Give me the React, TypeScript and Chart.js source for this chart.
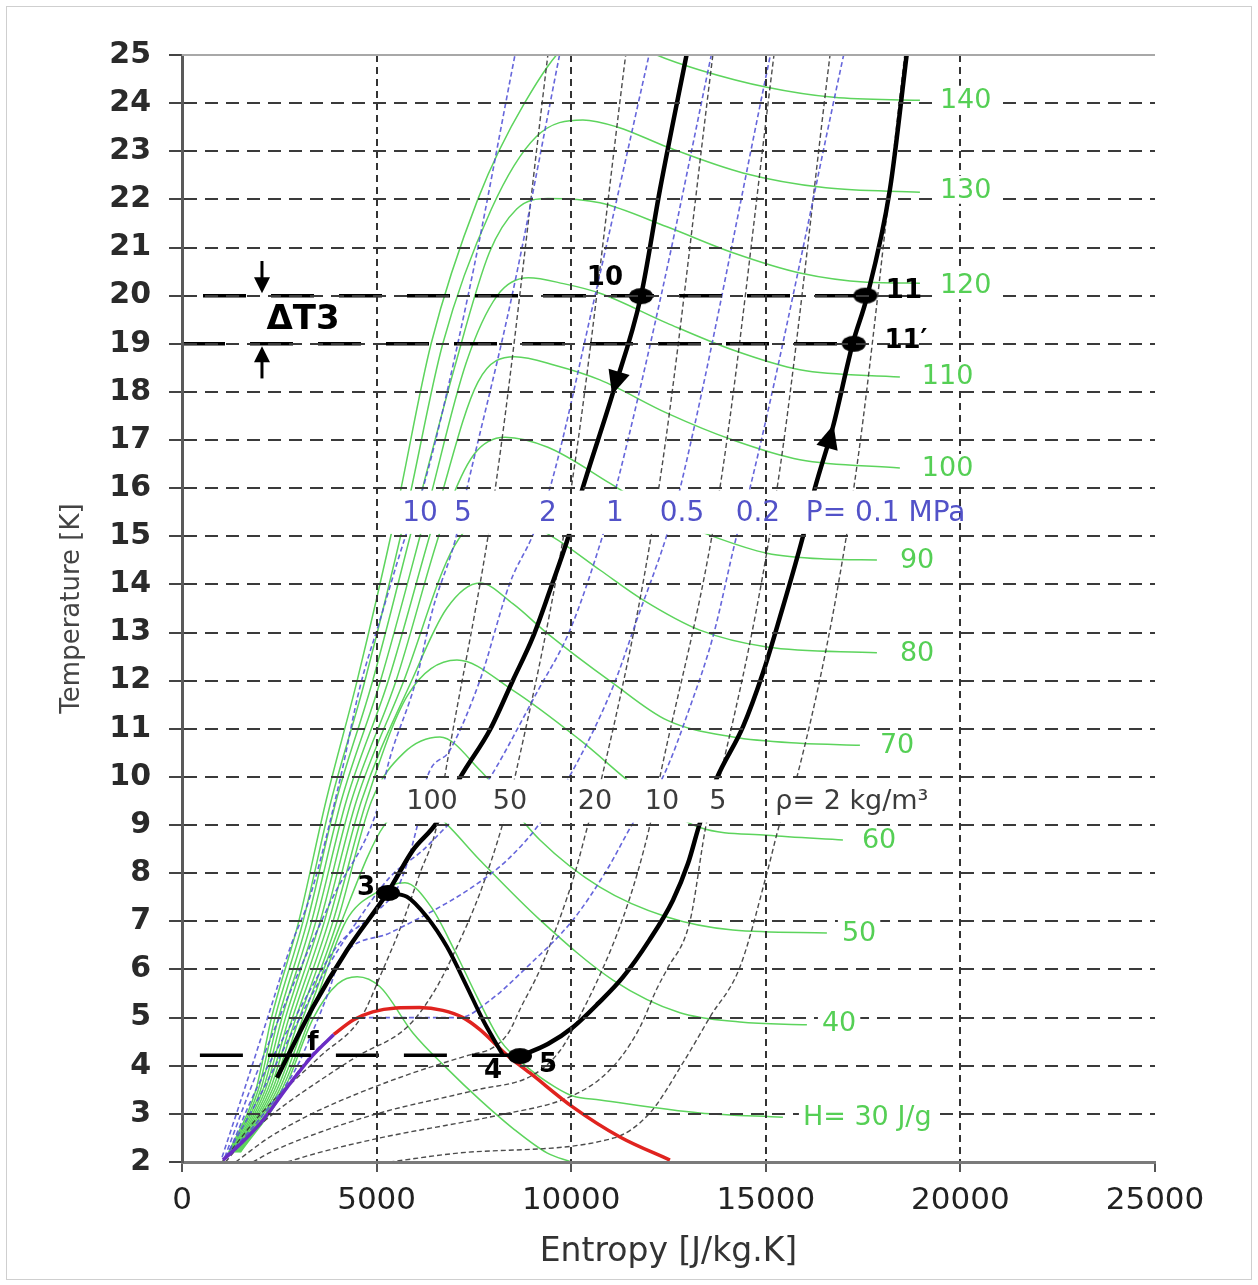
import React, { useEffect, useRef } from "react";
import { Chart, registerables } from "chart.js";
Chart.register(...registerables);

type P = [number, number];

// ---- axes ----
const S_MIN = 0, S_MAX = 25000, S_STEP = 5000;
const T_MIN = 2, T_MAX = 25, T_STEP = 1;

// ---- isenthalps (J/g) : [entropy J/kg.K, temperature K] ----
const H140: P[] = [[1200,2.2],[1900,3.5],[2300,5],[3000,7],[3700,9.5],[4500,12],[5500,15.5],[6400,19],[7600,22],[8800,24],[10000,25.3],[11000,25.5],[12200,25.0],[13300,24.69],[15030,24.33],[16740,24.12],[18960,24.06]];
const H130: P[] = [[1225,2.2],[1960,3.5],[2390,5],[3110,7],[3830,9.5],[4700,12],[5760,15.5],[6700,19],[7950,21.8],[9100,23.3],[10300,23.65],[11200,23.5],[12460,23.09],[14412,22.55],[16545,22.24],[18960,22.15]];
const H120: P[] = [[1250,2.2],[2020,3.5],[2480,5],[3220,7],[3960,9.5],[4900,12],[6020,15.5],[7000,18.5],[7900,20.9],[8600,21.8],[9400,22.02],[10738,21.93],[12460,21.43],[14155,20.89],[15876,20.47],[17598,20.28],[18960,20.26]];
const H110: P[] = [[1275,2.2],[2080,3.5],[2570,5],[3330,7],[4090,9.5],[5100,12],[6280,15.5],[7300,18.6],[8100,20.0],[8900,20.37],[9800,20.25],[10738,20.05],[12460,19.43],[14155,18.87],[15876,18.46],[18445,18.31]];
const H100: P[] = [[1300,2.2],[2140,3.5],[2660,5],[3440,7],[4220,9.5],[5300,12],[6540,15.5],[7600,18.2],[8550,18.73],[9600,18.55],[10738,18.25],[12460,17.56],[14155,17.0],[15876,16.59],[18445,16.42]];
const H90: P[] = [[1325,2.2],[2200,3.5],[2750,5],[3550,7],[4350,9.5],[5500,12],[6800,15.5],[7500,16.7],[8300,17.06],[9400,16.85],[11000,16.1],[12300,15.45],[13641,15.0],[15029,14.65],[16500,14.53],[17855,14.51]];
const H80: P[] = [[1350,2.2],[2260,3.5],[2840,5],[3660,7],[4480,9.5],[5700,12],[7000,14.8],[8100,15.5],[9500,15.0],[10738,14.3],[11843,13.68],[13307,13.05],[15029,12.7],[17855,12.58]];
const H70: P[] = [[1375,2.2],[2320,3.5],[2930,5],[3770,7],[4610,9.5],[5900,12],[6800,13.5],[7656,14.03],[8500,13.6],[9377,12.99],[11072,11.95],[12460,11.18],[14155,10.83],[15876,10.7],[17418,10.66]];
const H60: P[] = [[1400,2.2],[2380,3.5],[3020,5],[3880,7],[4740,9.5],[5800,11.7],[7065,12.43],[8503,11.8],[10225,10.77],[11766,9.73],[13307,8.95],[15029,8.79],[16981,8.69]];
const H50: P[] = [[1425,2.2],[2440,3.5],[3110,5],[3990,7],[4870,9.5],[5700,10.5],[6628,10.83],[7656,10.14],[9197,8.69],[10738,7.71],[12460,7.09],[14155,6.82],[16570,6.76]];
const H40: P[] = [[1450,2.2],[2500,3.5],[3200,5],[4100,7],[5200,9.0],[6100,9.42],[6628,9.15],[7656,8.27],[9197,7.03],[11072,5.78],[12794,5.1],[14335,4.91],[16056,4.85]];
const H30: P[] = [[1475,2.2],[2560,3.5],[3290,5],[4210,7],[5000,7.6],[5729,7.8],[6400,7.3],[7000,6.4],[7600,5.4],[8200,4.5],[8900,3.95],[9600,3.55],[10045,3.37],[10738,3.29],[13307,3.02],[15440,2.93]];
const H20: P[] = [[1500,2.2],[2620,3.5],[3380,5],[4000,5.7],[4500,5.85],[5087,5.64],[5934,4.68],[6800,3.95],[7656,3.29],[8500,2.7],[9377,2.19],[10000,2.0]];
const ISENTHALPS: P[][] = [H140, H130, H120, H110, H100, H90, H80, H70, H60, H50, H40, H30, H20];

// ---- isobars (MPa) ----
const P10: P[] = [[1030,2.1],[1600,3.5],[2200,5],[2800,6.5],[3288,7.51],[4059,9.94],[4573,11.87],[5087,13.26],[5755,15.03],[6191,16],[7350,20],[8555,25]];
const P5: P[] = [[1100,2.1],[1750,3.5],[2500,5],[3300,6.5],[3880,7.51],[4984,9.25],[5344,10.4],[6012,12],[6448,13.5],[7013,14.9],[7322,16],[8480,20],[9700,25]];
const P2: P[] = [[1150,2.1],[1900,3.5],[2900,5],[4000,6.5],[5000,7.2],[5600,7.8],[6037,8.96],[6294,9.98],[6885,10.56],[7656,12.01],[8426,14.03],[9017,15.03],[9454,16],[10613,20],[12000,25]];
const P1: P[] = [[1120,2.1],[1950,3.3],[2900,4.8],[3700,6.0],[4500,7.0],[5344,7.92],[6191,8.48],[6885,9.04],[7476,9.46],[9197,11.87],[9968,13.05],[10815,15.03],[11150,16],[12310,20],[13600,25]];
const P05: P[] = [[1080,2.05],[2100,3.0],[2900,3.9],[3300,4.6],[3750,5.5],[4060,6.2],[5344,6.76],[6628,7.3],[7476,7.72],[8350,8.27],[9197,9.04],[10045,10.14],[11072,11.87],[11689,13.27],[12460,15.03],[12800,16],[15118,25]];
const P02: P[] = [[1060,2.05],[2100,2.9],[3300,4.2],[4000,4.7],[4573,5.0],[7130,5.0],[7900,5.35],[8863,6.05],[10045,7.03],[10918,8.07],[11586,9.04],[12357,10],[13050,11.45],[13641,12.91],[14258,15.03],[14593,16],[17000,25]];
const ISOBARS: P[][] = [P10, P5, P2, P1, P05, P02];

// ---- isochores (kg/m3) ----
const R100: P[] = [[1030,2.0],[2025,3.0],[3555,4.2],[4600,5.0],[5164,6],[5678,7],[6114,8],[6550,9],[6750,10],[8050,16],[9400,25]];
const R50: P[] = [[1117,2.0],[1650,2.5],[2340,3.0],[3740,3.8],[4510,4.2],[5780,4.8],[6448,5.5],[7065,6.47],[7656,7.59],[8246,9.04],[8555,10],[10000,16],[11400,25]];
const R20: P[] = [[1380,2.0],[2220,2.5],[3330,3.0],[4600,3.45],[5750,3.8],[6600,4.03],[7370,4.22],[8000,4.38],[8400,4.7],[8700,5.2],[9200,6],[9680,7],[10095,8],[10430,9],[10790,10],[12250,16],[13640,25]];
const R10: P[] = [[1820,2.0],[2270,2.2],[3150,2.5],[5000,3.0],[7580,3.5],[9000,3.8],[9700,4.3],[10200,5],[10800,6],[11300,7],[11700,8],[12023,9],[12280,10],[13820,16],[15210,25]];
const R5: P[] = [[2700,2.0],[3540,2.2],[5090,2.5],[8300,3.0],[9800,3.3],[10700,3.7],[11300,4.2],[11766,4.8],[12200,5.6],[12460,6],[13050,7],[13490,9.1],[13820,10],[15290,16],[16650,25]];
const R2: P[] = [[5330,2.0],[7300,2.2],[11100,2.5],[12023,3.02],[12871,4.06],[13564,5.01],[14335,6.05],[15029,8.0],[15363,9.04],[15800,10],[17260,16],[18570,25]];
const ISOCHORES: P[][] = [R100, R50, R20, R10, R5, R2];

// ---- saturation dome ----
const DOME_LIQ: P[] = [[1053,2.04],[1600,2.45],[2081,2.87],[2700,3.55],[3365,4.22],[3900,4.65]];
const DOME_REST: P[] = [[3900,4.65],[4400,4.95],[4900,5.12],[5500,5.2],[6100,5.21],[6700,5.15],[7219,5.0],[7656,4.75],[8350,4.22],[8940,3.85],[10045,3.14],[11252,2.52],[12537,2.04]];

// ---- cycle ----
const LINE_HP: P[] = [[2440,3.75],[3365,5.22],[4239,6.4],[5292,7.61],[5934,8.48],[6551,9.06],[7142,9.98],[7913,10.98],[8503,12.01],[9017,12.91],[9454,13.88],[9916,14.96],[10302,16.02],[11072,17.98],[11792,19.99],[12280,22.2],[12973,25.04]];
const LINE_LP: P[] = [[8683,4.2],[9400,4.45],[10045,4.8],[10700,5.3],[11329,5.84],[12000,6.6],[12614,7.44],[13000,8.2],[13307,9.04],[13744,9.98],[14412,11.04],[14926,12.16],[15363,13.32],[15953,14.99],[16262,16.0],[16724,17.27],[17238,19.02],[17598,19.97],[18188,22.2],[18625,25.04]];
const LINE_3_4: P[] = [[5292,7.59],[5780,7.51],[6294,7.09],[6808,6.47],[7322,5.64],[7733,4.95],[8246,4.22]];
const LEVEL_20: P[] = [[540,20],[17560,20]];
const LEVEL_19: P[] = [[0,19],[17260,19]];
const LEVEL_F: P[] = [[460,4.22],[8683,4.22]];
const STATE_POINTS: P[] = [[11792,19.99],[17560,20],[17260,19],[5292,7.59],[8683,4.2]];

// ---- annotation texts ----
const FONT = '"DejaVu Sans", "Liberation Sans", sans-serif';
const POINT_LABELS = [
  { text: "10", s: 10867, T: 20.37 },
  { text: "11", s: 18548, T: 20.1 },
  { text: "11\u2032", s: 18600, T: 19.06 },
  { text: "3", s: 4727, T: 7.69 },
  { text: "4", s: 7990, T: 3.89 },
  { text: "5", s: 9402, T: 4.0 },
  { text: "f", s: 3365, T: 4.47 },
];
const DT_LABEL = { text: "\u0394T3", s: 3108, T: 19.49 };
const P_LABELS = [
  { text: "10", s: 6114 }, { text: "5", s: 7219 }, { text: "2", s: 9403 },
  { text: "1", s: 11124 }, { text: "0.5", s: 12845 }, { text: "0.2", s: 14797 },
  { text: "P= 0.1 MPa", s: 18080 },
];
const P_LABEL_T = 15.5;
const RHO_LABELS = [
  { text: "100", s: 6423 }, { text: "50", s: 8426 }, { text: "20", s: 10610 },
  { text: "10", s: 12331 }, { text: "5", s: 13770 }, { text: "\u03c1= 2 kg/m\u00b3", s: 17212 },
];
const RHO_LABEL_T = 9.5;
const H_LABELS = [
  { text: "140", s: 19473, T: 24.07 }, { text: "130", s: 19473, T: 22.2 },
  { text: "120", s: 19473, T: 20.22 }, { text: "110", s: 19010, T: 18.33 },
  { text: "100", s: 19010, T: 16.42 }, { text: "90", s: 18445, T: 14.51 },
  { text: "80", s: 18445, T: 12.58 }, { text: "70", s: 17932, T: 10.66 },
  { text: "60", s: 17469, T: 8.69 }, { text: "50", s: 16955, T: 6.76 },
  { text: "40", s: 16442, T: 4.89 }, { text: "H= 30 J/g", s: 15954, T: 2.93 },
];
const BANDS = [
  { s0: 5000, s1: 20800, T0: 15.05, T1: 15.95 },
  { s0: 5000, s1: 19700, T0: 9.05, T1: 9.95 },
];
const FLOW_ARROWS = [
  { tip: [11050, 17.94] as P, tail: [11300, 18.6] as P },
  { tip: [16740, 17.32] as P, tail: [16560, 16.8] as P },
];
const DT_ARROWS = [
  { tip: [2055, 20.05] as P, tail: [2055, 20.72] as P },
  { tip: [2055, 18.95] as P, tail: [2055, 18.28] as P },
];

const GREEN = "#5dd45d";
const BLUE = "rgba(85,85,215,0.9)";
const GRAYLINE = "rgba(45,45,45,0.85)";

function toXY(pts: P[]) {
  return pts.map(([x, y]) => ({ x, y }));
}

function ellipseMarker() {
  const c = document.createElement("canvas");
  c.width = 26; c.height = 18;
  const g = c.getContext("2d")!;
  g.fillStyle = "#000";
  g.beginPath();
  g.ellipse(13, 9, 12, 8, 0, 0, Math.PI * 2);
  g.fill();
  return c;
}

function head(ctx: CanvasRenderingContext2D, tx: number, ty: number, dx: number, dy: number, len: number, half: number) {
  const n = Math.hypot(dx, dy) || 1;
  const ux = dx / n, uy = dy / n;
  const bx = tx - ux * len, by = ty - uy * len;
  ctx.beginPath();
  ctx.moveTo(tx, ty);
  ctx.lineTo(bx - uy * half, by + ux * half);
  ctx.lineTo(bx + uy * half, by - ux * half);
  ctx.closePath();
  ctx.fill();
}

const bandPlugin = {
  id: "bands",
  afterDatasetsDraw(chart: any) {
    const { ctx, scales: { x, y } } = chart;
    ctx.save();
    ctx.fillStyle = "#ffffff";
    for (const b of BANDS) {
      const x0 = x.getPixelForValue(b.s0), x1 = x.getPixelForValue(b.s1);
      const y0 = y.getPixelForValue(b.T1), y1 = y.getPixelForValue(b.T0);
      ctx.fillRect(x0, y0, x1 - x0, y1 - y0);
    }
    ctx.restore();
  },
};

const annotPlugin = {
  id: "annot",
  afterDraw(chart: any) {
    const { ctx, chartArea, scales: { x, y } } = chart;
    const px = (s: number) => x.getPixelForValue(s);
    const py = (t: number) => y.getPixelForValue(t);
    ctx.save();
    ctx.strokeStyle = "#a8a8a8";
    ctx.lineWidth = 2;
    ctx.beginPath();
    ctx.moveTo(chartArea.left, chartArea.top);
    ctx.lineTo(chartArea.right, chartArea.top);
    ctx.stroke();

    ctx.textBaseline = "middle";
    ctx.font = `27px ${FONT}`;
    ctx.textAlign = "left";
    for (const l of H_LABELS) {
      const w = ctx.measureText(l.text).width;
      ctx.fillStyle = "#fff";
      ctx.fillRect(px(l.s) - 4, py(l.T) - 14, w + 8, 28);
      ctx.fillStyle = "#55cf55";
      ctx.fillText(l.text, px(l.s), py(l.T) + 1);
    }
    ctx.textAlign = "center";
    ctx.font = `28px ${FONT}`;
    ctx.fillStyle = "#5252c8";
    for (const l of P_LABELS) ctx.fillText(l.text, px(l.s), py(P_LABEL_T) + 1);
    ctx.font = `27px ${FONT}`;
    ctx.fillStyle = "#3c3c3c";
    for (const l of RHO_LABELS) ctx.fillText(l.text, px(l.s), py(RHO_LABEL_T) + 1);
    ctx.fillStyle = "#000";
    ctx.font = `bold 26px ${FONT}`;
    for (const l of POINT_LABELS) ctx.fillText(l.text, px(l.s), py(l.T));
    ctx.font = `bold 34px ${FONT}`;
    ctx.fillText(DT_LABEL.text, px(DT_LABEL.s), py(DT_LABEL.T));

    ctx.fillStyle = "#000";
    for (const a of FLOW_ARROWS) {
      const tx = px(a.tip[0]), ty = py(a.tip[1]);
      const bx = px(a.tail[0]), by = py(a.tail[1]);
      head(ctx, tx, ty, tx - bx, ty - by, 24, 11);
    }
    ctx.strokeStyle = "#000";
    ctx.lineWidth = 3;
    for (const a of DT_ARROWS) {
      const tx = px(a.tip[0]), ty = py(a.tip[1]);
      const bx = px(a.tail[0]), by = py(a.tail[1]);
      const dir = Math.sign(ty - by);
      ctx.beginPath();
      ctx.moveTo(bx, by);
      ctx.lineTo(tx, ty - dir * 14);
      ctx.stroke();
      head(ctx, tx, ty, tx - bx, ty - by, 16, 8);
    }
    ctx.restore();
  },
};

export default function App() {
  const ref = useRef<HTMLCanvasElement>(null);
  useEffect(() => {
    const canvas = ref.current;
    if (!canvas) return;
    const marker = ellipseMarker();
    const base = { pointRadius: 0, cubicInterpolationMode: "monotone" as const, fill: false };
    const datasets: any[] = [];

    datasets.push({ ...base, data: toXY(STATE_POINTS), showLine: false, pointRadius: 11, pointStyle: marker, order: 0 });
    datasets.push({ ...base, data: toXY(LINE_HP), borderColor: "#000", borderWidth: 4.5, order: 1 });
    datasets.push({ ...base, data: toXY(LINE_LP), borderColor: "#000", borderWidth: 4.5, order: 1 });
    datasets.push({ ...base, data: toXY(LINE_3_4), borderColor: "#000", borderWidth: 4, order: 1 });
    for (const lv of [LEVEL_20, LEVEL_19, LEVEL_F]) {
      datasets.push({ ...base, data: toXY(lv), borderColor: "#000", borderWidth: 3.5, borderDash: [43, 25], order: 2 });
    }
    datasets.push({ ...base, data: toXY(DOME_LIQ), borderColor: "#6a2cc4", borderWidth: 3.5, order: 4 });
    datasets.push({ ...base, data: toXY(DOME_REST), borderColor: "#e0231f", borderWidth: 3.5, order: 5 });
    for (const p of ISOBARS) {
      datasets.push({ ...base, data: toXY(p), borderColor: BLUE, borderWidth: 1.6, borderDash: [5, 3], order: 7 });
    }
    for (const r of ISOCHORES) {
      datasets.push({ ...base, data: toXY(r), borderColor: GRAYLINE, borderWidth: 1.4, borderDash: [5, 3], order: 8 });
    }
    for (const h of ISENTHALPS) {
      datasets.push({ ...base, data: toXY(h), borderColor: GREEN, borderWidth: 1.5, order: 9 });
    }

    const chart = new Chart(canvas, {
      type: "line",
      data: { datasets },
      options: {
        responsive: false,
        animation: false,
        devicePixelRatio: 1,
        layout: { padding: { top: 55, right: 103, left: 0, bottom: 0 } },
        plugins: { legend: { display: false }, tooltip: { enabled: false } },
        elements: { point: { radius: 0 } },
        scales: {
          x: {
            type: "linear",
            min: S_MIN, max: S_MAX,
            afterFit: (s: any) => { s.height = 123; s.paddingLeft = 0; s.paddingRight = 0; },
            ticks: {
              stepSize: S_STEP,
              padding: 10,
              color: "#222",
              font: { family: FONT, size: 31 },
              callback: (v: any) => String(v),
              maxRotation: 0,
            },
            grid: {
              z: 1,
              lineWidth: 2,
              color: (c: any) => (c.tick && (c.tick.value === S_MIN || c.tick.value === S_MAX) ? "rgba(0,0,0,0)" : "#333"),
              tickColor: "#555",
              tickWidth: 2,
              tickLength: 10,
            },
            border: { display: true, color: "#7a7a7a", width: 3, dash: [7, 5], z: 1 },
            title: {
              display: true,
              text: "Entropy [J/kg.K]",
              color: "#333",
              font: { family: FONT, size: 33 },
              padding: { top: 0, bottom: 13 },
            },
          },
          y: {
            type: "linear",
            min: T_MIN, max: T_MAX,
            afterFit: (s: any) => { s.width = 182; s.paddingTop = 0; s.paddingBottom = 0; },
            ticks: {
              stepSize: T_STEP,
              padding: 18,
              color: "#2a2a2a",
              font: { family: FONT, size: 30, weight: "bold" },
              callback: (v: any) => String(v),
            },
            grid: {
              z: 1,
              lineWidth: 2,
              color: (c: any) => (c.tick && (c.tick.value === T_MIN || c.tick.value === T_MAX) ? "rgba(0,0,0,0)" : "#3a3a3a"),
              tickColor: "#444",
              tickWidth: 2,
              tickLength: 13,
            },
            border: { display: true, color: "#5a5a5a", width: 3, dash: [13, 8], z: 1 },
            title: {
              display: true,
              text: "Temperature [K]",
              color: "#444",
              font: { family: FONT, size: 26 },
              padding: { top: 57, bottom: 0 },
            },
          },
        },
      } as any,
      plugins: [bandPlugin, annotPlugin],
    });
    return () => chart.destroy();
  }, []);

  return (
    <div style={{ position: "absolute", left: 0, top: 0, width: 1258, height: 1285, background: "#fff" }}>
      <canvas ref={ref} width={1258} height={1285} style={{ display: "block" }} />
      <div style={{ position: "absolute", left: 6, top: 6, width: 1244, height: 1272, border: "1px solid #cfcfcf", pointerEvents: "none" }} />
    </div>
  );
}
